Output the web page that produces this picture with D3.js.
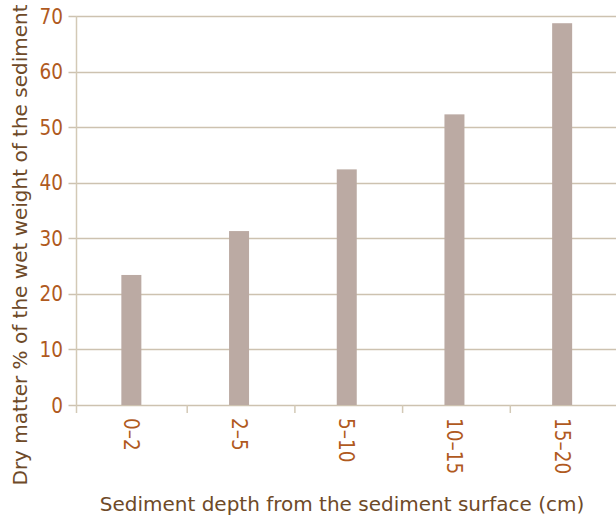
<!DOCTYPE html>
<html lang="en">
<head>
<meta charset="utf-8">
<title>Dry matter by sediment depth</title>
<script src="https://cdn.jsdelivr.net/npm/d3@7"></script>
<style>
  body { margin: 0; background: #fff; }
  svg text { font-family: "DejaVu Sans", sans-serif; }
  svg text.tick { font-family: "DejaVu Sans Condensed", "DejaVu Sans", sans-serif; }
</style>
</head>
<body>
<svg id="chart" width="616" height="515"></svg>
<script>
// values
var depths = ["0\u20132", "2\u20135", "5\u201310", "10\u201315", "15\u201320"];
var dryMatter = [23.4, 31.3, 42.4, 52.3, 68.7];
var yTicks = [0, 10, 20, 30, 40, 50, 60, 70];

var svg = d3.select("#chart");
var plotLeft = 76.5, plotRight = 616, plotTop = 16, plotBottom = 405;

var x = d3.scaleBand().domain(depths).range([plotLeft + 1, plotRight]);
var y = d3.scaleLinear().domain([0, 70]).range([plotBottom, plotTop]);

// gridlines
svg.append("g").selectAll("line").data(yTicks).join("line")
  .attr("x1", plotLeft - 8).attr("x2", plotRight)
  .attr("y1", function(d) { return Math.round(y(d)) + 0.5; })
  .attr("y2", function(d) { return Math.round(y(d)) + 0.5; })
  .attr("stroke", "#cdc2b0").attr("stroke-width", 1.5);

// bars
svg.append("g").selectAll("rect").data(dryMatter).join("rect")
  .attr("x", function(d, i) { return x(depths[i]) + x.bandwidth() / 2 - 10; })
  .attr("width", 20)
  .attr("y", function(d) { return y(d); })
  .attr("height", function(d) { return plotBottom - y(d); })
  .attr("fill", "#bbaaa3");

// y axis line
svg.append("line")
  .attr("x1", plotLeft).attr("x2", plotLeft).attr("y1", plotTop).attr("y2", plotBottom + 8)
  .attr("stroke", "#d3c9b6").attr("stroke-width", 1.5);

// x tick marks between bands
svg.append("g").selectAll("line").data(depths.slice(1)).join("line")
  .attr("x1", function(d) { return x(d) + 2; })
  .attr("x2", function(d) { return x(d) + 2; })
  .attr("y1", plotBottom).attr("y2", plotBottom + 8)
  .attr("stroke", "#d3c9b6").attr("stroke-width", 1.5);

// y tick labels
svg.append("g").selectAll("text").data(yTicks).join("text")
  .attr("class", "tick")
  .attr("x", 63).attr("y", function(d) { return y(d) + 7.5; })
  .attr("text-anchor", "end")
  .attr("font-size", 20.5)
  .attr("fill", "#b05a1e")
  .text(function(d) { return d; });

// x tick labels, rotated
svg.append("g").selectAll("text").data(depths).join("text")
  .attr("class", "tick")
  .attr("transform", function(d) {
    return "translate(" + (x(d) + x.bandwidth() / 2 - 7.5) + "," + (plotBottom + 13) + ") rotate(90)";
  })
  .attr("font-size", 20.5)
  .attr("fill", "#b05a1e")
  .text(function(d) { return d; });

// axis titles
svg.append("text")
  .attr("x", 342).attr("y", 511)
  .attr("text-anchor", "middle")
  .attr("font-size", 20)
  .attr("fill", "#6e4a28")
  .text("Sediment depth from the sediment surface (cm)");

svg.append("text")
  .attr("transform", "translate(27,245) rotate(-90)")
  .attr("text-anchor", "middle")
  .attr("font-size", 20)
  .attr("fill", "#6e4a28")
  .text("Dry matter % of the wet weight of the sediment");
</script>
</body>
</html>
